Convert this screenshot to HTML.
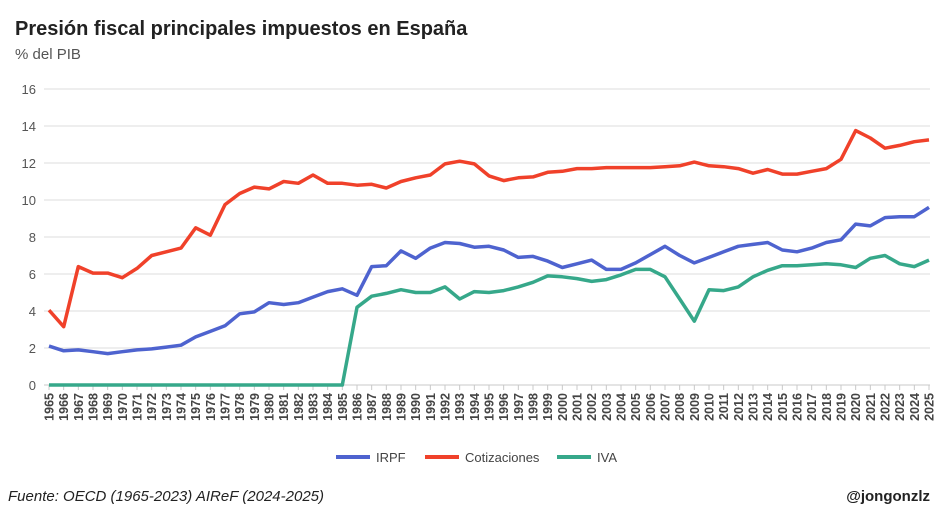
<!DOCTYPE html>
<html><head><meta charset="utf-8"><style>
body{margin:0;background:#fff;font-family:"Liberation Sans",sans-serif;}
</style></head><body>
<svg width="950" height="516" id="svg" xmlns="http://www.w3.org/2000/svg" font-family="Liberation Sans, sans-serif">
<text x="15" y="35" font-size="20" font-weight="bold" fill="#222">Presión fiscal principales impuestos en España</text>
<text x="15" y="59" font-size="15" fill="#555">% del PIB</text>
<g id="grid"></g><g id="xlab"></g><g id="lines"></g>
<g>
<line x1="336" y1="457" x2="370" y2="457" stroke="#4e63cf" stroke-width="4"/>
<text x="376" y="462" font-size="13" fill="#444">IRPF</text>
<line x1="425" y1="457" x2="459" y2="457" stroke="#f0412a" stroke-width="4"/>
<text x="465" y="462" font-size="13" fill="#444">Cotizaciones</text>
<line x1="557" y1="457" x2="591" y2="457" stroke="#36a88a" stroke-width="4"/>
<text x="597" y="462" font-size="13" fill="#444">IVA</text>
</g>
<text x="8" y="501" font-size="15" font-style="italic" fill="#222">Fuente: OECD (1965-2023) AIReF (2024-2025)</text>
<text x="930" y="501" font-size="15" font-weight="bold" fill="#222" text-anchor="end">@jongonzlz</text>
</svg>
<script>
const years=[];for(let y=1965;y<=2025;y++)years.push(y);
const yTicks=[0,2,4,6,8,10,12,14,16];
const irpf=[2.1,1.85,1.9,1.8,1.7,1.8,1.9,1.95,2.05,2.15,2.6,2.9,3.2,3.85,3.95,4.45,4.35,4.45,4.75,5.05,5.2,4.85,6.4,6.45,7.25,6.85,7.4,7.7,7.65,7.45,7.5,7.3,6.9,6.95,6.7,6.35,6.55,6.75,6.25,6.25,6.6,7.05,7.5,7.0,6.6,6.9,7.2,7.5,7.6,7.7,7.3,7.2,7.4,7.7,7.85,8.7,8.6,9.05,9.1,9.1,9.6];
const cotizaciones=[4.05,3.15,6.4,6.05,6.05,5.8,6.3,7.0,7.2,7.4,8.5,8.1,9.75,10.35,10.7,10.6,11.0,10.9,11.35,10.9,10.9,10.8,10.85,10.65,11.0,11.2,11.35,11.95,12.1,11.95,11.3,11.05,11.2,11.25,11.5,11.55,11.7,11.7,11.75,11.75,11.75,11.75,11.8,11.85,12.05,11.85,11.8,11.7,11.45,11.65,11.4,11.4,11.55,11.7,12.2,13.75,13.35,12.8,12.95,13.15,13.25];
const iva=[0,0,0,0,0,0,0,0,0,0,0,0,0,0,0,0,0,0,0,0,0,4.2,4.8,4.95,5.15,5.0,5.0,5.3,4.65,5.05,5.0,5.1,5.3,5.55,5.9,5.85,5.75,5.6,5.7,5.95,6.25,6.25,5.85,4.65,3.45,5.15,5.1,5.3,5.85,6.2,6.45,6.45,6.5,6.55,6.5,6.35,6.85,7.0,6.55,6.4,6.75];
const NS="http://www.w3.org/2000/svg";
const x=i=>49+i*(929-49)/(years.length-1);
const y=v=>385-v*(385-89)/16;
function mk(t,a,p){const e=document.createElementNS(NS,t);for(const k in a)e.setAttribute(k,a[k]);p.appendChild(e);return e;}
const g=document.getElementById('grid');
yTicks.forEach(t=>{
 const l=mk('line',{x1:44,x2:930,y1:y(t),y2:y(t),stroke:t===0?'#c8c8c8':'#dcdcdc','stroke-width':1},g);
 
 
 const tx=mk('text',{x:36,y:y(t)+5,'font-size':13,fill:'#555','text-anchor':'end'},g);
 tx.textContent=t;
 
 
});
const xl=document.getElementById('xlab');
years.forEach((yr,i)=>{
 mk('line',{x1:x(i),x2:x(i),y1:385,y2:390,stroke:'#c8c8c8'},xl);
 const t=mk('text',{transform:`translate(${x(i)+4.5},${393}) rotate(-90)`,'font-size':12.5,'font-weight':'bold',fill:'#444','text-anchor':'end'},xl);
 t.textContent=yr;
 
 
});
const L=document.getElementById('lines');
[[iva,'#36a88a','line-iva'],[irpf,'#4e63cf','line-irpf'],[cotizaciones,'#f0412a','line-cotizaciones']].forEach(([d,c,n])=>{
 const p=mk('polyline',{points:d.map((v,i)=>x(i).toFixed(1)+','+y(v).toFixed(1)).join(' '),fill:'none',stroke:c,'stroke-width':3.5,'stroke-linejoin':'round'},L);
 
 
});
</script>
</body></html>
